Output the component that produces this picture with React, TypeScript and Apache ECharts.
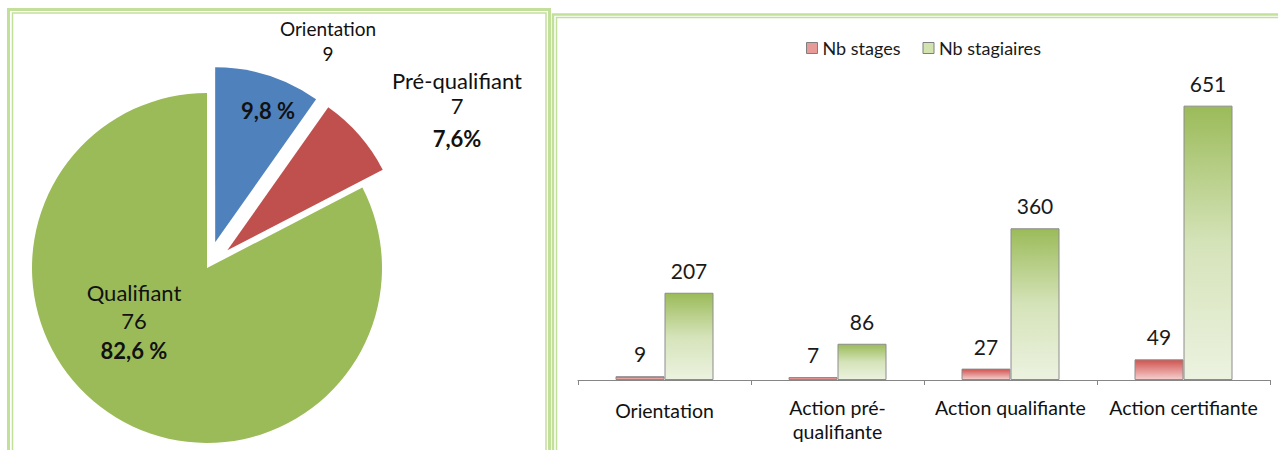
import React, { useEffect, useRef } from 'react';
import * as echarts from 'echarts';

// ---- data ----
const pieNames = ['Orientation', 'Pré-qualifiant', 'Qualifiant'];
const pieValues = [9, 7, 76];

const categories = ['Orientation', 'Action pré-\nqualifiante', 'Action qualifiante', 'Action certifiante'];
const nbStages = [9, 7, 27, 49];
const nbStagiaires = [207, 86, 360, 651];
const seriesNames = ['Nb stages', 'Nb stagiaires'];

// ---- styles ----
const FONT = 'Lato';
const PIE_COLORS = ['#4f81bd', '#c0504d', '#9bbb59'];
const PIE_LABEL_POS: [number, number][] = [[328, 41], [457, 113], [134, 322]];
const PIE_PCT_POS: [number, number] = [268, 110];
const PCT_SUFFIX = [' %', '%', ' %'];
const BORDER = '#c3e09a';

const total = pieValues.reduce((a, b) => a + b, 0);
const pct = (i: number) => (pieValues[i] / total * 100).toFixed(1).replace('.', ',') + PCT_SUFFIX[i];

const pieData = pieNames.map((n, i) => ({
  name: n,
  value: pieValues[i],
  selected: i < 2,
  itemStyle: { color: PIE_COLORS[i] },
}));
const ghostData = pieNames.map((n, i) => ({ name: n, value: pieValues[i], itemStyle: { color: 'rgba(0,0,0,0)' } }));

export default function App() {
  const ref = useRef<HTMLDivElement>(null);
  useEffect(() => {
    document.body.style.margin = '0';
    const chart = echarts.init(ref.current!, null, { renderer: 'svg' });
    const redGrad = new echarts.graphic.LinearGradient(0, 0, 0, 1, [
      { offset: 0, color: '#d0534f' },
      { offset: 1, color: '#f5cfce' },
    ]);
    const greenGrad = new echarts.graphic.LinearGradient(0, 0, 0, 1, [
      { offset: 0, color: '#9bbb59' },
      { offset: 0.5, color: '#d5e3b9' },
      { offset: 1, color: '#ecf2e0' },
    ]);
    const txt = '#111';
    const ghostBase = {
      type: 'pie',
      center: [207, 268],
      radius: 175,
      startAngle: 90,
      clockwise: true,
      silent: true,
      avoidLabelOverlap: false,
      data: ghostData,
      labelLine: { show: false },
    };
    const option: any = {
      animation: false,
      textStyle: { fontFamily: FONT },
      graphic: [
        { type: 'rect', z: -1, shape: { x: 8.5, y: 9.5, width: 541, height: 500 }, style: { fill: 'none', stroke: BORDER, lineWidth: 3 } },
        { type: 'rect', z: -1, shape: { x: 12.5, y: 13, width: 533.5, height: 500 }, style: { fill: 'none', stroke: BORDER, lineWidth: 1.5 } },
        { type: 'rect', z: -1, shape: { x: 553, y: 14.5, width: 800, height: 500 }, style: { fill: 'none', stroke: BORDER, lineWidth: 2.5 } },
        { type: 'rect', z: -1, shape: { x: 556.5, y: 17.5, width: 800, height: 500 }, style: { fill: 'none', stroke: BORDER, lineWidth: 1.5 } },
      ],
      legend: {
        data: seriesNames.map((n, i) => ({
          name: n,
          itemStyle: { color: i === 0 ? '#e69b99' : '#d3e3b0', borderColor: '#7f7f7f', borderWidth: 1 },
        })),
        left: 801,
        top: 34,
        icon: 'rect',
        itemWidth: 11,
        itemHeight: 11,
        itemGap: 22,
        textStyle: { fontSize: 18, color: '#1a1a1a', fontFamily: FONT },
      },
      grid: { left: 578, right: 8, top: 85, bottom: 70, containLabel: false },
      xAxis: {
        type: 'category',
        data: categories,
        axisLine: { lineStyle: { color: '#868686', width: 1 } },
        axisTick: { show: true, length: 5, lineStyle: { color: '#868686' } },
        axisLabel: {
          interval: 0,
          fontSize: 19.5,
          lineHeight: 24,
          color: txt,
          margin: 15,
          fontFamily: FONT,
          formatter: (v: string, i: number) => (i === 0 ? `{o|${v}}` : v),
          rich: { o: { fontSize: 19.5, lineHeight: 24, padding: [7, 0, 0, 0], color: txt, fontFamily: FONT } },
        },
      },
      yAxis: { type: 'value', min: 0, max: 700, show: false, splitLine: { show: false } },
      series: [
        {
          type: 'pie',
          center: [207, 268],
          radius: 175,
          startAngle: 90,
          clockwise: true,
          selectedMode: 'multiple',
          selectedOffset: 27,
          data: pieData,
          label: { show: false },
          labelLine: { show: false },
          emphasis: { disabled: true },
        },
        {
          ...ghostBase,
          label: {
            show: true,
            position: 'inside',
            color: txt,
            fontFamily: FONT,
            formatter: (p: any) => {
              const i = p.dataIndex;
              if (i === 0) return `{o|${p.name}}\n{o|${p.value}}`;
              if (i === 1) return `{p|${p.name}}\n{p|${p.value}}\n{pb|${pct(i)}}`;
              return `{q|${p.name}}\n{q|${p.value}}\n{qb|${pct(i)}}`;
            },
            rich: {
              o: { fontSize: 19, lineHeight: 25, color: txt, fontFamily: FONT, align: 'center' },
              p: { fontSize: 22, lineHeight: 25, color: txt, fontFamily: FONT, align: 'center' },
              pb: { fontSize: 22, lineHeight: 41, fontWeight: 'bold', color: txt, fontFamily: FONT, align: 'center' },
              q: { fontSize: 22, lineHeight: 28, color: txt, fontFamily: FONT, align: 'center' },
              qb: { fontSize: 22, lineHeight: 32, fontWeight: 'bold', color: txt, fontFamily: FONT, align: 'center' },
            },
          },
          labelLayout: (p: any) => {
            const pos = PIE_LABEL_POS[p.dataIndex];
            return { x: pos[0], y: pos[1], align: 'center', verticalAlign: 'middle' };
          },
        },
        {
          ...ghostBase,
          label: {
            show: true,
            position: 'inside',
            formatter: (p: any) => (p.dataIndex === 0 ? pct(0) : ''),
            fontSize: 22,
            fontWeight: 'bold',
            color: txt,
            fontFamily: FONT,
          },
          labelLayout: (p: any) =>
            p.dataIndex === 0 ? { x: PIE_PCT_POS[0], y: PIE_PCT_POS[1], align: 'center', verticalAlign: 'middle' } : {},
        },
        {
          type: 'bar',
          name: seriesNames[0],
          data: nbStages,
          barWidth: 49,
          barGap: '0%',
          itemStyle: { color: redGrad, borderColor: '#8c8c8c', borderWidth: 1 },
          label: { show: true, position: 'top', distance: 12, fontSize: 21, color: '#1a1a1a', fontFamily: FONT },
        },
        {
          type: 'bar',
          name: seriesNames[1],
          data: nbStagiaires,
          barWidth: 49,
          barGap: '0%',
          itemStyle: { color: greenGrad, borderColor: '#8c8c8c', borderWidth: 1 },
          label: { show: true, position: 'top', distance: 12, fontSize: 21, color: '#1a1a1a', fontFamily: FONT },
        },
      ],
    };
    chart.setOption(option);
    return () => chart.dispose();
  }, []);
  return <div ref={ref} style={{ width: 1278, height: 450 }} />;
}
